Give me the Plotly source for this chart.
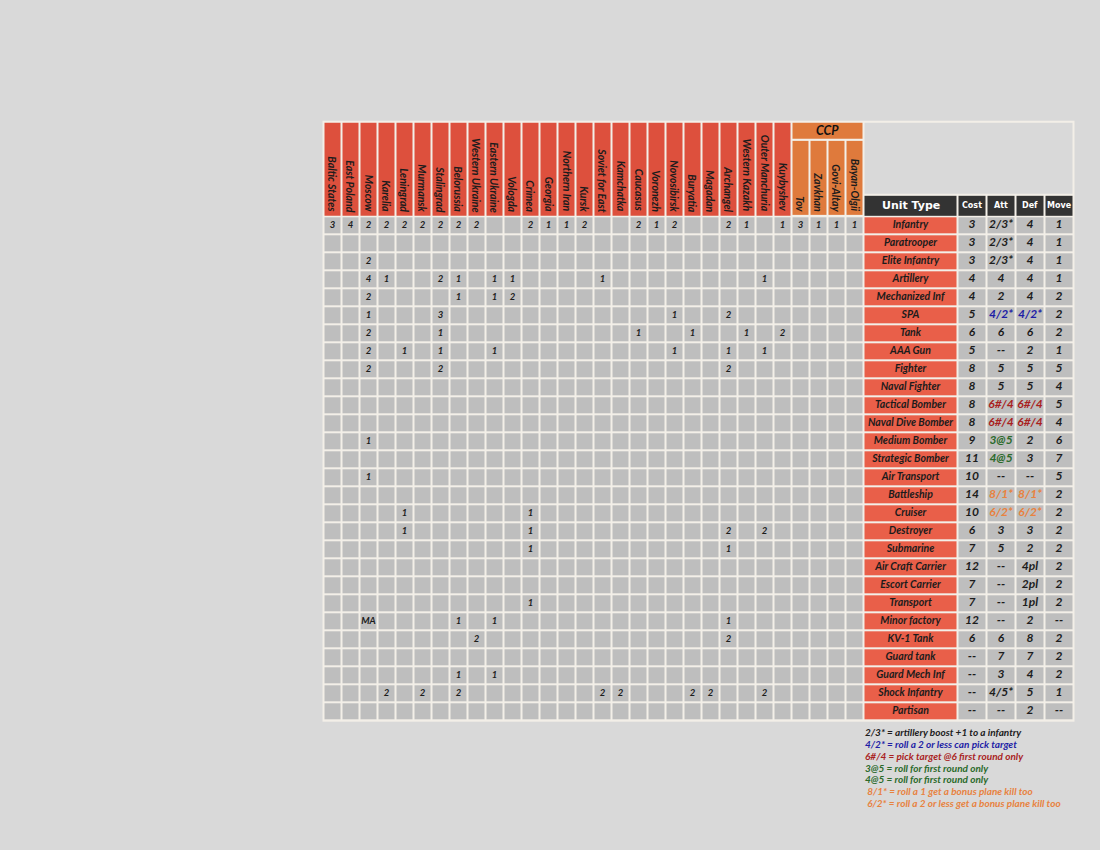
import plotly.graph_objects as go

# ---------------- data ----------------
regions = ["Baltic States", "East Poland", "Moscow", "Karelia", "Leningrad", "Murmansk",
           "Stalingrad", "Belorussia", "Western Ukraine", "Eastern Ukraine", "Vologda",
           "Crimea", "Georgia", "Northern Iran", "Kursk", "Soviet for East", "Kamchatka",
           "Caucasus", "Voronezh", "Novosibirsk", "Buryatia", "Magadan", "Archangel",
           "Western Kazakh", "Outer Manchuria", "Kuybyshev"]
ccp_label = "CCP"
ccp_regions = ["Tov", "Zavkhan", "Govi-Altay", "Bayan-Olgii"]

unit_header = "Unit Type"
stat_headers = ["Cost", "Att", "Def", "Move"]

units = ["Infantry", "Paratrooper", "Elite Infantry", "Artillery", "Mechanized Inf", "SPA",
         "Tank", "AAA Gun", "Fighter", "Naval Fighter", "Tactical Bomber", "Naval Dive Bomber",
         "Medium Bomber", "Strategic Bomber", "Air Transport", "Battleship", "Cruiser",
         "Destroyer", "Submarine", "Air Craft Carrier", "Escort Carrier", "Transport",
         "Minor factory", "KV-1 Tank", "Guard tank", "Guard Mech Inf", "Shock Infantry",
         "Partisan"]
cost = ["3", "3", "3", "4", "4", "5", "6", "5", "8", "8", "8", "8", "9", "11", "10", "14",
        "10", "6", "7", "12", "7", "7", "12", "6", "--", "--", "--", "--"]
att = ["2/3*", "2/3*", "2/3*", "4", "2", "4/2*", "6", "--", "5", "5", "6#/4", "6#/4", "3@5",
       "4@5", "--", "8/1*", "6/2*", "3", "5", "--", "--", "--", "--", "6", "7", "3", "4/5*", "--"]
defense = ["4", "4", "4", "4", "4", "4/2*", "6", "2", "5", "5", "6#/4", "6#/4", "2", "3", "--",
           "8/1*", "6/2*", "3", "2", "4pl", "2pl", "1pl", "2", "8", "7", "4", "5", "2"]
move = ["1", "1", "1", "1", "2", "2", "2", "1", "5", "4", "5", "4", "6", "7", "5", "2", "2",
        "2", "2", "2", "2", "2", "--", "2", "2", "2", "1", "--"]

_ = ""
# units available per territory: one row per unit type, 26 Soviet + 4 CCP columns
counts = [
    ["3", "4", "2", "2", "2", "2", "2", "2", "2", _, _, "2", "1", "1", "2", _, _, "2", "1", "2", _, _, "2", "1", _, "1", "3", "1", "1", "1"],
    [_, _, _, _, _, _, _, _, _, _, _, _, _, _, _, _, _, _, _, _, _, _, _, _, _, _, _, _, _, _],
    [_, _, "2", _, _, _, _, _, _, _, _, _, _, _, _, _, _, _, _, _, _, _, _, _, _, _, _, _, _, _],
    [_, _, "4", "1", _, _, "2", "1", _, "1", "1", _, _, _, _, "1", _, _, _, _, _, _, _, _, "1", _, _, _, _, _],
    [_, _, "2", _, _, _, _, "1", _, "1", "2", _, _, _, _, _, _, _, _, _, _, _, _, _, _, _, _, _, _, _],
    [_, _, "1", _, _, _, "3", _, _, _, _, _, _, _, _, _, _, _, _, "1", _, _, "2", _, _, _, _, _, _, _],
    [_, _, "2", _, _, _, "1", _, _, _, _, _, _, _, _, _, _, "1", _, _, "1", _, _, "1", _, "2", _, _, _, _],
    [_, _, "2", _, "1", _, "1", _, _, "1", _, _, _, _, _, _, _, _, _, "1", _, _, "1", _, "1", _, _, _, _, _],
    [_, _, "2", _, _, _, "2", _, _, _, _, _, _, _, _, _, _, _, _, _, _, _, "2", _, _, _, _, _, _, _],
    [_, _, _, _, _, _, _, _, _, _, _, _, _, _, _, _, _, _, _, _, _, _, _, _, _, _, _, _, _, _],
    [_, _, _, _, _, _, _, _, _, _, _, _, _, _, _, _, _, _, _, _, _, _, _, _, _, _, _, _, _, _],
    [_, _, _, _, _, _, _, _, _, _, _, _, _, _, _, _, _, _, _, _, _, _, _, _, _, _, _, _, _, _],
    [_, _, "1", _, _, _, _, _, _, _, _, _, _, _, _, _, _, _, _, _, _, _, _, _, _, _, _, _, _, _],
    [_, _, _, _, _, _, _, _, _, _, _, _, _, _, _, _, _, _, _, _, _, _, _, _, _, _, _, _, _, _],
    [_, _, "1", _, _, _, _, _, _, _, _, _, _, _, _, _, _, _, _, _, _, _, _, _, _, _, _, _, _, _],
    [_, _, _, _, _, _, _, _, _, _, _, _, _, _, _, _, _, _, _, _, _, _, _, _, _, _, _, _, _, _],
    [_, _, _, _, "1", _, _, _, _, _, _, "1", _, _, _, _, _, _, _, _, _, _, _, _, _, _, _, _, _, _],
    [_, _, _, _, "1", _, _, _, _, _, _, "1", _, _, _, _, _, _, _, _, _, _, "2", _, "2", _, _, _, _, _],
    [_, _, _, _, _, _, _, _, _, _, _, "1", _, _, _, _, _, _, _, _, _, _, "1", _, _, _, _, _, _, _],
    [_, _, _, _, _, _, _, _, _, _, _, _, _, _, _, _, _, _, _, _, _, _, _, _, _, _, _, _, _, _],
    [_, _, _, _, _, _, _, _, _, _, _, _, _, _, _, _, _, _, _, _, _, _, _, _, _, _, _, _, _, _],
    [_, _, _, _, _, _, _, _, _, _, _, "1", _, _, _, _, _, _, _, _, _, _, _, _, _, _, _, _, _, _],
    [_, _, "MA", _, _, _, _, "1", _, "1", _, _, _, _, _, _, _, _, _, _, _, _, "1", _, _, _, _, _, _, _],
    [_, _, _, _, _, _, _, _, "2", _, _, _, _, _, _, _, _, _, _, _, _, _, "2", _, _, _, _, _, _, _],
    [_, _, _, _, _, _, _, _, _, _, _, _, _, _, _, _, _, _, _, _, _, _, _, _, _, _, _, _, _, _],
    [_, _, _, _, _, _, _, "1", _, "1", _, _, _, _, _, _, _, _, _, _, _, _, _, _, _, _, _, _, _, _],
    [_, _, _, "2", _, "2", _, "2", _, _, _, _, _, _, _, "2", "2", _, _, _, "2", "2", _, _, "2", _, _, _, _, _],
    [_, _, _, _, _, _, _, _, _, _, _, _, _, _, _, _, _, _, _, _, _, _, _, _, _, _, _, _, _, _],
]

notes = ["2/3* = artillery boost +1 to a infantry",
         "4/2* = roll a 2 or less can pick target",
         "6#/4 = pick target @6 first round only",
         "3@5 = roll for first round only",
         "4@5 = roll for first round only",
         " 8/1* = roll a 1 get a bonus plane kill too",
         " 6/2* = roll a 2 or less get a bonus plane kill too"]

# ---------------- style ----------------
BG = "#d9d9d9"
LINE = "#f3efe8"
CELL = "#bebebe"
RED = "#dd503d"
SALMON = "#e95f49"
ORANGE = "#df7a3c"
DARK = "#333333"
INK = "#1c1c1c"
BLUE = "#1e1ea6"
DRED = "#a91f1f"
GREEN = "#2b6a2b"
LORANGE = "#e8823f"
special = {"4/2*": BLUE, "6#/4": DRED, "3@5": GREEN, "4@5": GREEN, "8/1*": LORANGE, "6/2*": LORANGE}
note_colors = [INK, BLUE, DRED, GREEN, GREEN, LORANGE, LORANGE]
ITAL = "Lato"
HEADF = "DejaVu Sans"

# geometry (pixel coordinates of the page)
X0, PITCH = 323.5, 18
ncol = len(regions) + len(ccp_regions)
col_edges = [X0 + PITCH * i for i in range(ncol + 1)]
UNIT_W, STAT_W = 94, 29
unit_edges = [col_edges[-1], col_edges[-1] + UNIT_W]
stat_edges = [unit_edges[1] + STAT_W * i for i in range(len(stat_headers) + 1)]
Y0, ROW = 216.3, 18
row_edges = [Y0 + ROW * j for j in range(len(units) + 1)]
HEAD_TOP = 121.7
CCP_SPLIT = 139.85
UNIT_HEAD_TOP = 194.8
GAP = 2


def centers(edges):
    return [(a + b) / 2 for a, b in zip(edges[:-1], edges[1:])]


def block(xe, ye, color, gap=GAP):
    nx, ny = len(xe) - 1, len(ye) - 1
    return go.Heatmap(z=[[0] * nx for _ in range(ny)], x=xe, y=ye, xgap=gap, ygap=gap,
                      colorscale=[[0, color], [1, color]], showscale=False, hoverinfo="skip")


fig = go.Figure()
# cream frame behind everything
fig.add_trace(block([col_edges[0] - 1, stat_edges[-1] + 1], [HEAD_TOP - 1, row_edges[-1] + 1], LINE, gap=0))
# Soviet header cells
nsov = len(regions)
fig.add_trace(block(col_edges[:nsov + 1], [HEAD_TOP, Y0], RED))
# CCP header
fig.add_trace(block([col_edges[nsov], col_edges[-1]], [HEAD_TOP, CCP_SPLIT], ORANGE))
fig.add_trace(block(col_edges[nsov:], [CCP_SPLIT, Y0], ORANGE))
# blank box above unit table
fig.add_trace(block([unit_edges[0], stat_edges[-1]], [HEAD_TOP, UNIT_HEAD_TOP], BG))
# unit table header
fig.add_trace(block(unit_edges + stat_edges[1:], [UNIT_HEAD_TOP, Y0], DARK))
# body
fig.add_trace(block(col_edges, row_edges, CELL))
fig.add_trace(block(unit_edges, row_edges, SALMON))
fig.add_trace(block(stat_edges, row_edges, CELL))

cx = centers(col_edges)
ry = centers(row_edges)
ux = centers(unit_edges)[0]
sx = centers(stat_edges)

# territory counts
tx, ty, tt = [], [], []
for j, row in enumerate(counts):
    for i, v in enumerate(row):
        if v:
            tx.append(cx[i]); ty.append(ry[j]); tt.append(f"<b><i>{v}</i></b>")
fig.add_trace(go.Scatter(x=tx, y=ty, text=tt, mode="text", cliponaxis=False, hoverinfo="skip",
                         textfont=dict(family=ITAL, size=9.5, color=INK)))
# unit names
fig.add_trace(go.Scatter(x=[ux] * len(units), y=ry, text=[f"<b><i>{u}</i></b>" for u in units],
                         mode="text", cliponaxis=False, hoverinfo="skip",
                         textfont=dict(family=ITAL, size=10.5, color=INK)))
# stats
for k, col in enumerate([cost, att, defense, move]):
    fig.add_trace(go.Scatter(x=[sx[k]] * len(col), y=ry, text=[f"<b><i>{v}</i></b>" for v in col],
                             mode="text", cliponaxis=False, hoverinfo="skip",
                             textfont=dict(family=ITAL, size=12,
                                           color=[special.get(v, INK) for v in col])))

ann = []
for i, name in enumerate(regions + ccp_regions):
    ann.append(dict(x=cx[i], y=Y0 - 2.5, text=f"<b><i>{name}</i></b>", textangle=90,
                    xanchor="center", yanchor="bottom", showarrow=False,
                    font=dict(family=ITAL, size=10.5, color=INK)))
ann.append(dict(x=(col_edges[nsov] + col_edges[-1]) / 2, y=(HEAD_TOP + CCP_SPLIT) / 2,
                text=f"<b><i>{ccp_label}</i></b>", showarrow=False,
                font=dict(family=ITAL, size=12.5, color="#111111")))
ann.append(dict(x=ux, y=(UNIT_HEAD_TOP + Y0) / 2, text=f"<b>{unit_header}</b>", showarrow=False,
                font=dict(family=HEADF, size=11, color="white")))
for k, h in enumerate(stat_headers):
    ann.append(dict(x=sx[k], y=(UNIT_HEAD_TOP + Y0) / 2, text=f"<b>{h}</b>", showarrow=False,
                    font=dict(family=HEADF, size=8, color="white")))
for n, (line, c) in enumerate(zip(notes, note_colors)):
    ann.append(dict(x=unit_edges[0] - 0.5, y=row_edges[-1] + 11.7 + 11.85 * n,
                    text=f"<b><i>{line}</i></b>", xanchor="left", yanchor="middle", showarrow=False,
                    font=dict(family=ITAL, size=10, color=c)))

fig.update_layout(width=1100, height=850, margin=dict(l=0, r=0, t=0, b=0),
                  paper_bgcolor=BG, plot_bgcolor=BG, showlegend=False, annotations=ann,
                  xaxis=dict(range=[0, 1100], visible=False, fixedrange=True),
                  yaxis=dict(range=[850, 0], visible=False, fixedrange=True))

fig.write_html("out.html", config={"displayModeBar": False},
               post_script="document.body.style.margin='0';document.body.style.overflow='hidden';")
